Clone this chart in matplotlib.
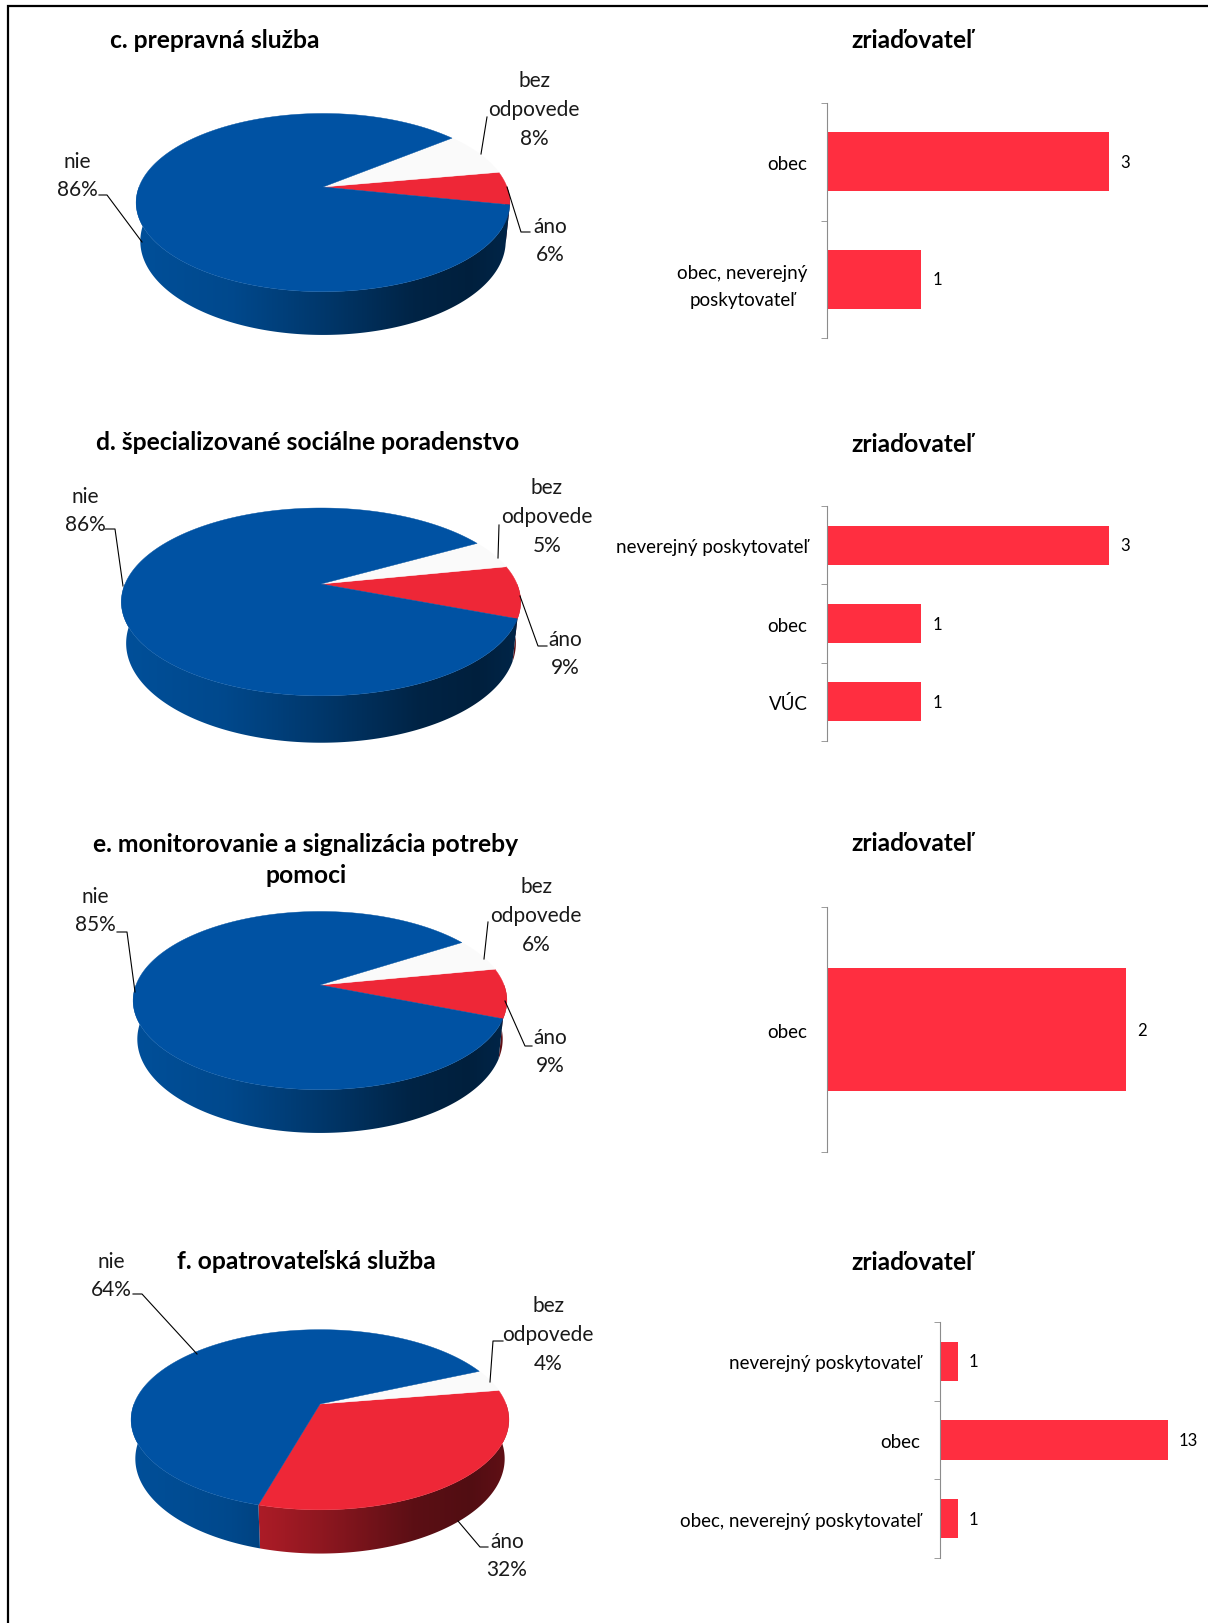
import numpy as np
import matplotlib.pyplot as plt
from matplotlib.patches import Polygon

plt.rcParams['font.family'] = ['Lato', 'DejaVu Sans']

# pie data: order is ano, bez odpovede, nie
pie_labels = ['áno', 'bez\nodpovede', 'nie']
pie_titles = ['c. prepravná služba',
              'd. špecializované sociálne poradenstvo',
              'e. monitorovanie a signalizácia potreby\npomoci',
              'f. opatrovateľská služba']
pie_c = [6, 8, 86]
pie_d = [9, 5, 86]
pie_e = [9, 6, 85]
pie_f = [32, 4, 64]

bar_title = 'zriaďovateľ'
bar_c_cats = ['obec', 'obec, neverejný\nposkytovateľ']
bar_c_vals = [3, 1]
bar_d_cats = ['neverejný poskytovateľ', 'obec', 'VÚC']
bar_d_vals = [3, 1, 1]
bar_e_cats = ['obec']
bar_e_vals = [2]
bar_f_cats = ['neverejný poskytovateľ', 'obec', 'obec, neverejný poskytovateľ']
bar_f_vals = [1, 13, 1]

W, H = 1208, 1624
fig = plt.figure(figsize=(W/100, H/100), dpi=100)
ax = fig.add_axes([0, 0, 1, 1])

top_cols = ['#EE2737', '#FAFAFA', '#0052A3']
side_cols = [np.array([0.80, 0.13, 0.18]), np.array([0.85, 0.85, 0.85]), np.array([0.0, 0.31, 0.60])]


def shade(c):
    return np.interp(c, [-1, -0.5, 0, 0.5, 0.8, 1], [1.0, 0.92, 0.7, 0.45, 0.4, 0.47])


def draw_pie(vals, start, cx, cy, S, D=5.05, phi=28, h=0.24):
    phi = np.radians(phi)

    def proj(t, z):
        X, Y = np.cos(t), np.sin(t)
        d = D + Y*np.cos(phi) - z*np.sin(phi)
        return cx + S*D*X/d, cy - S*D*(Y*np.sin(phi) + z*np.cos(phi))/d

    frac = np.array(vals)/np.sum(vals)
    edges = np.radians(start) + 2*np.pi*np.concatenate([[0], np.cumsum(frac)])

    # side wall (front half) with horizontal gradient
    gx = np.linspace(cx - 1.05*S, cx + 1.05*S, 400)
    fac = shade(np.clip((gx - cx)/S, -1, 1))
    for i in range(len(vals)):
        for m in (-1, 0, 1):
            a0 = max(edges[i] + 2*np.pi*m, -np.pi)
            a1 = min(edges[i+1] + 2*np.pi*m, 0)
            if a1 <= a0:
                continue
            t = np.linspace(a0, a1, 300)
            xa, ya = proj(t, 0)
            xb, yb = proj(t[::-1], -h)
            pts = np.column_stack([np.r_[xa, xb], np.r_[ya, yb]])
            poly = Polygon(pts, closed=True, fc='none', ec='none')
            ax.add_patch(poly)
            img = (side_cols[i][None, None, :]*fac[None, :, None])
            im = ax.imshow(img, extent=(gx[0], gx[-1], cy + 2*S, cy - 2*S),
                           aspect='auto', interpolation='bilinear', zorder=1)
            im.set_clip_path(poly)

    # top face
    for i in range(len(vals)):
        t = np.linspace(edges[i], edges[i+1], 200)
        xs, ys = proj(t, 0)
        pts = np.column_stack([np.r_[cx, xs], np.r_[cy, ys]])
        ax.add_patch(Polygon(pts, closed=True, fc=top_cols[i], ec=top_cols[i],
                             lw=0.3, zorder=2))


def pie_text(vals, pos, leaders):
    for lab, v, (x, y), ld in zip(pie_labels, vals, pos, leaders):
        ax.text(x, y, f'{lab}\n{v}%', ha='center', va='center', fontsize=15,
                linespacing=1.55, color='#1a1a1a')
        ld = np.array(ld)
        ax.plot(ld[:, 0], ld[:, 1], color='black', lw=0.8, zorder=3)


draw_pie(pie_c, -11.5, 323, 188, 184)
pie_text(pie_c, [(550, 241), (534, 110), (77, 176)],
         [[(507, 188), (521, 233), (530, 233)], [(487, 118), (481, 155)],
          [(99, 196), (107, 196), (142, 243)]])

draw_pie(pie_d, -21, 321, 585, 196, D=4.65, phi=27.5)
pie_text(pie_d, [(565, 654), (547, 517), (85, 511)],
         [[(520, 597), (538, 647), (547, 647)], [(499, 526), (498, 559)],
          [(105, 530), (115, 530), (123, 587)]])

draw_pie(pie_e, -21.5, 320, 986, 184)
pie_text(pie_e, [(550, 1052), (536, 916), (95, 911)],
         [[(505, 1002), (525, 1047), (532, 1047)], [(488, 923), (484, 960)],
          [(117, 933), (127, 933), (135, 993)]])

draw_pie(pie_f, -106, 320, 1405, 186)
pie_text(pie_f, [(507, 1556), (548, 1335), (111, 1276)],
         [[(458, 1522), (480, 1548), (488, 1548)], [(503, 1342), (493, 1342), (490, 1383)],
          [(133, 1295), (142, 1295), (197, 1355)]])

for t, (x, y) in zip(pie_titles, [(215, 41), (308, 443), (306, 860), (306, 1262)]):
    ax.text(x, y, t, ha='center', va='center', fontsize=17.7, fontweight='bold',
            linespacing=1.47)
for y in [41, 445, 844, 1263]:
    ax.text(912, y, bar_title, ha='center', va='center', fontsize=17.7, fontweight='bold')

# frame
ax.plot([8, 8, W], [H, 7, 7], color='black', lw=1.6, solid_joinstyle='miter')

ax.set_xlim(0, W)
ax.set_ylim(H, 0)
ax.axis('off')


def draw_bars(cats, vals, left, top, bottom, xmax, right=1180):
    bx = fig.add_axes([left/W, 1 - bottom/H, (right - left)/W, (bottom - top)/H])
    bx.patch.set_alpha(0)
    n = len(cats)
    y = np.arange(n)
    bx.barh(y, vals, height=0.5, color='#FF2E40')
    bx.set_xlim(0, xmax)
    bx.set_ylim(n - 0.5, -0.5)
    for s in ['top', 'right', 'bottom']:
        bx.spines[s].set_visible(False)
    bx.spines['left'].set_color('#8c8c8c')
    bx.xaxis.set_visible(False)
    bx.set_yticks(y)
    bx.set_yticklabels(cats, fontsize=13.5, ha='right', multialignment='center',
                       linespacing=1.7)
    bx.set_yticks(np.arange(n + 1) - 0.5, minor=True)
    bx.tick_params(axis='y', which='major', length=0, pad=14)
    bx.tick_params(axis='y', which='minor', length=4, color='#8c8c8c')
    for yi, v in zip(y, vals):
        bx.annotate(str(v), (v, yi), xytext=(8, 0), textcoords='offset points',
                    va='center', ha='left', fontsize=12)


draw_bars(bar_c_cats, bar_c_vals, 827, 104, 339, (1180 - 827)/94)
draw_bars(bar_d_cats, bar_d_vals, 827, 507, 742, (1180 - 827)/94)
draw_bars(bar_e_cats, bar_e_vals, 827, 908, 1153, (1180 - 827)/149.5)
draw_bars(bar_f_cats, bar_f_vals, 940, 1323, 1559, (1180 - 940)/17.5)

fig.savefig('out.png', dpi=100)
